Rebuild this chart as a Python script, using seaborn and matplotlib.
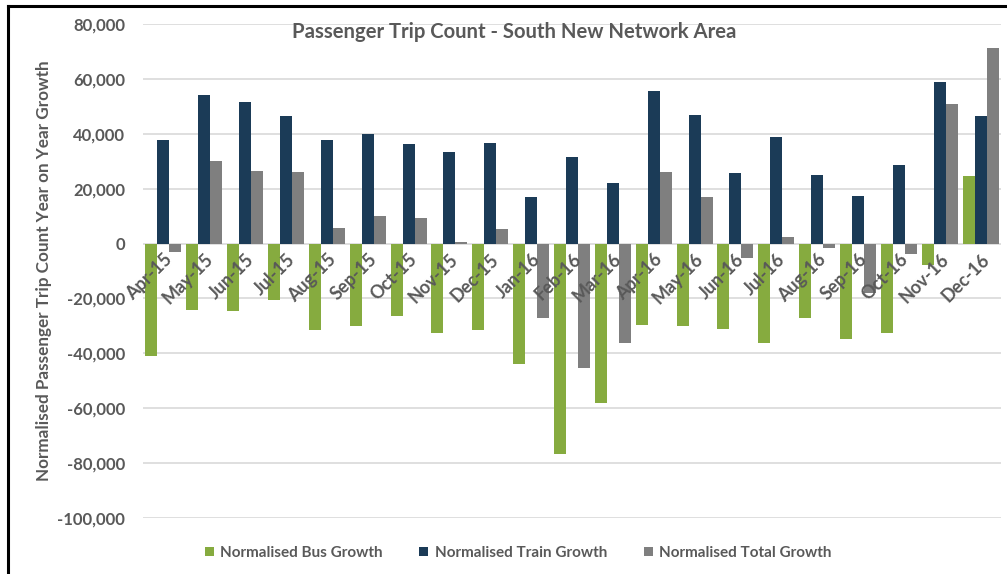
import pandas as pd
import seaborn as sns
import matplotlib.pyplot as plt
from matplotlib.lines import Line2D

# Data
months = ['Apr-15', 'May-15', 'Jun-15', 'Jul-15', 'Aug-15', 'Sep-15', 'Oct-15',
          'Nov-15', 'Dec-15', 'Jan-16', 'Feb-16', 'Mar-16', 'Apr-16', 'May-16',
          'Jun-16', 'Jul-16', 'Aug-16', 'Sep-16', 'Oct-16', 'Nov-16', 'Dec-16']
bus = [-40800, -24100, -24700, -20400, -31600, -30200, -26500, -32600, -31600,
       -43800, -76600, -58000, -29600, -30000, -31100, -36100, -27100, -34700,
       -32600, -7700, 24600]
train = [37800, 54000, 51500, 46500, 37800, 39900, 36400, 33300, 36700,
         17000, 31600, 22000, 55500, 46800, 25700, 38800, 25100, 17400,
         28600, 59000, 46500]
total = [-3200, 30200, 26500, 26200, 5700, 10000, 9400, 700, 5400,
         -27000, -45400, -36100, 26000, 16900, -5200, 2300, -1600, -17900,
         -3800, 51000, 71300]
series = ['Normalised Bus Growth', 'Normalised Train Growth', 'Normalised Total Growth']
colors = ['#86AB3F', '#1B3B57', '#7F7F7F']

df = pd.DataFrame({
    'Month': months * 3,
    'Value': bus + train + total,
    'Series': [series[0]] * len(months) + [series[1]] * len(months) + [series[2]] * len(months),
})

grey = '#595959'
plt.rcParams['font.family'] = ['Lato', 'DejaVu Sans']

fig = plt.figure(figsize=(10.07, 5.74), dpi=100)
ax = fig.add_axes([143 / 1007, 1 - 518 / 574, (1001 - 143) / 1007, (518 - 24) / 574])

sns.barplot(data=df, x='Month', y='Value', hue='Series', order=months,
            hue_order=series, palette=colors, width=0.88, linewidth=0,
            saturation=1, ax=ax)

ax.set_ylim(-100000, 80000)
ax.set_xlim(-0.5, len(months) - 0.5)
ax.set_yticks(range(-100000, 80001, 20000))
ax.yaxis.set_major_formatter(plt.FuncFormatter(lambda v, p: f'{int(v):,}'))
ax.grid(axis='y', color='#D9D9D9', linewidth=1.2)
ax.set_axisbelow(True)
# month labels sit on top of the bars
ax.xaxis.set_zorder(5)
for s in ['top', 'right', 'left']:
    ax.spines[s].set_visible(False)
ax.spines['bottom'].set_position(('data', 0))
ax.spines['bottom'].set_visible(False)
ax.tick_params(axis='both', length=0, labelcolor=grey)
ax.tick_params(axis='y', pad=13, labelsize=12)
ax.tick_params(axis='x', pad=5, labelsize=13)
for lab in ax.get_yticklabels():
    lab.set_fontweight('bold')
for lab in ax.get_xticklabels():
    lab.set_rotation(45)
    lab.set_ha('right')
    lab.set_va('top')
    lab.set_rotation_mode('anchor')
    lab.set_fontweight('bold')
ax.set_xlabel('')
ax.set_ylabel('')

fig.text(514 / 1007, 1 - 32 / 574, 'Passenger Trip Count - South New Network Area',
         ha='center', va='center', fontsize=14.6, fontweight='bold', color=grey)
fig.text(44 / 1007, 1 - 271 / 574, 'Normalised Passenger Trip Count Year on Year Growth',
         ha='center', va='center', rotation=90, fontsize=12.3, fontweight='bold', color=grey)

handles, labels = ax.get_legend_handles_labels()
leg = ax.legend(handles, labels, loc='center', bbox_to_anchor=(518 / 1007, 1 - 553 / 574),
                bbox_transform=fig.transFigure, ncol=3, frameon=False,
                prop={'size': 11, 'weight': 'bold'},
                handlelength=0.6, handleheight=0.6, handletextpad=0.4, columnspacing=2.4,
                labelcolor=grey)

# black frame on top and left like the screenshot
fig.add_artist(Line2D([8 / 1007, 1], [1 - 6 / 574, 1 - 6 / 574], transform=fig.transFigure,
                      color='black', linewidth=2.2))
fig.add_artist(Line2D([8 / 1007, 8 / 1007], [0, 1 - 6 / 574], transform=fig.transFigure,
                      color='black', linewidth=2.2))

fig.savefig('out.png', dpi=100)
